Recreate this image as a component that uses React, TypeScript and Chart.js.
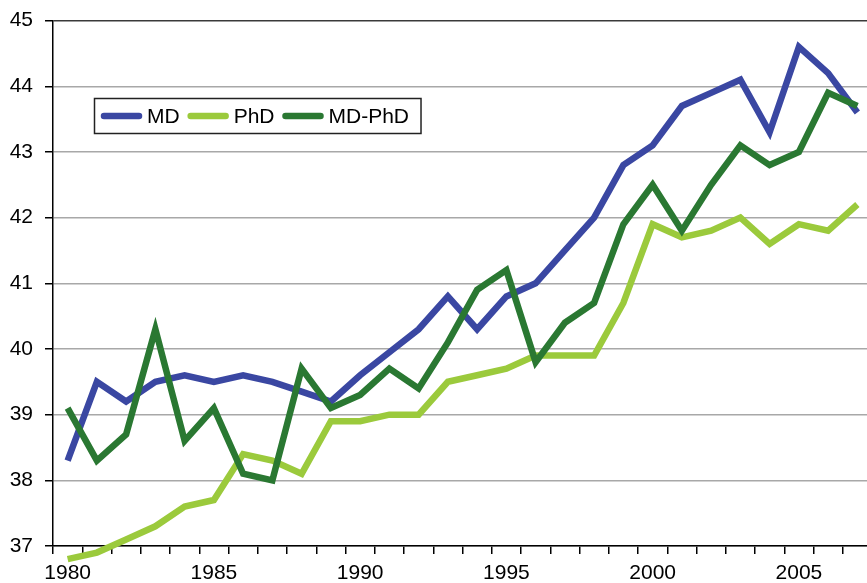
import React, { useEffect, useRef } from "react";
import { Chart, registerables } from "chart.js";

Chart.register(...registerables);

const years: number[] = [
  1980, 1981, 1982, 1983, 1984, 1985, 1986, 1987, 1988, 1989,
  1990, 1991, 1992, 1993, 1994, 1995, 1996, 1997, 1998, 1999,
  2000, 2001, 2002, 2003, 2004, 2005, 2006, 2007,
];

const mdValues: number[] = [
  38.3, 39.5, 39.2, 39.5, 39.6, 39.5, 39.6, 39.5, 39.35, 39.2,
  39.6, 39.95, 40.3, 40.8, 40.3, 40.8, 41.0, 41.5, 42.0, 42.8,
  43.1, 43.7, 43.9, 44.1, 43.3, 44.6, 44.2, 43.6,
];

const phdValues: number[] = [
  36.8, 36.9, 37.1, 37.3, 37.6, 37.7, 38.4, 38.3, 38.1, 38.9,
  38.9, 39.0, 39.0, 39.5, 39.6, 39.7, 39.9, 39.9, 39.9, 40.7,
  41.9, 41.7, 41.8, 42.0, 41.6, 41.9, 41.8, 42.2,
];

const mdPhdValues: number[] = [
  39.1, 38.3, 38.7, 40.3, 38.6, 39.1, 38.1, 38.0, 39.7, 39.1,
  39.3, 39.7, 39.4, 40.1, 40.9, 41.2, 39.8, 40.4, 40.7, 41.9,
  42.5, 41.8, 42.5, 43.1, 42.8, 43.0, 43.9, 43.7,
];

const seriesLabels: string[] = ["MD", "PhD", "MD-PhD"];
const seriesColors: string[] = ["#3a47a2", "#9bca3c", "#2a7832"];

const FONT = "'Liberation Sans', Arial, Helvetica, sans-serif";
const SHIFT = 4;

const legendPlugin = {
  id: "boxLegend",
  afterDraw(chart: any) {
    const ctx = chart.ctx as CanvasRenderingContext2D;
    const left = 94.5;
    const top = 98.5 + SHIFT;
    const height = 35;
    const midY = top + height / 2;
    ctx.save();
    ctx.font = `21px ${FONT}`;
    const sampleLen = 41;
    let x = 101;
    const items: { sx: number; tx: number; label: string; color: string }[] = [];
    chart.data.datasets.forEach((ds: any) => {
      const w = ctx.measureText(ds.label).width;
      items.push({ sx: x, tx: x + sampleLen + 5, label: ds.label, color: ds.borderColor });
      x = x + sampleLen + 5 + w + 8;
    });
    const right = x - 8 + 12;
    ctx.fillStyle = "#ffffff";
    ctx.fillRect(left, top, right - left, height);
    ctx.strokeStyle = "#222222";
    ctx.lineWidth = 1.5;
    ctx.strokeRect(left, top, right - left, height);
    items.forEach((it) => {
      ctx.beginPath();
      ctx.strokeStyle = it.color;
      ctx.lineWidth = 6.5;
      ctx.lineCap = "round";
      ctx.moveTo(it.sx + 3, midY);
      ctx.lineTo(it.sx + sampleLen - 3, midY);
      ctx.stroke();
      ctx.fillStyle = "#000000";
      ctx.textBaseline = "middle";
      ctx.textAlign = "left";
      ctx.fillText(it.label, it.tx, midY + 1);
    });
    ctx.restore();
  },
};

export default function App() {
  const canvasRef = useRef<HTMLCanvasElement | null>(null);

  useEffect(() => {
    if (!canvasRef.current) return;
    const seriesData = [mdValues, phdValues, mdPhdValues];
    const chart = new Chart(canvasRef.current, {
      type: "line",
      data: {
        labels: years.map(String),
        datasets: seriesData.map((d, i) => ({
          label: seriesLabels[i],
          data: d,
          borderColor: seriesColors[i],
          backgroundColor: seriesColors[i],
          borderWidth: 6.5,
          pointRadius: 0,
          pointHoverRadius: 0,
          tension: 0,
          fill: false,
          clip: false as any,
          borderJoinStyle: "miter" as const,
          borderCapStyle: "butt" as const,
          order: 2 - i,
        })),
      },
      options: {
        responsive: false,
        animation: false,
        devicePixelRatio: 1,
        layout: { padding: { top: 16, right: 8, left: 0, bottom: 0 } },
        plugins: {
          legend: { display: false },
          tooltip: { enabled: false },
        },
        scales: {
          x: {
            type: "category",
            offset: true,
            grid: {
              offset: true,
              drawOnChartArea: false,
              drawTicks: true,
              tickLength: 8,
              color: "#000000",
              lineWidth: 1.5,
            },
            border: { color: "#000000", width: 1.5 },
            ticks: {
              autoSkip: false,
              maxRotation: 0,
              minRotation: 0,
              padding: 7,
              color: "#000000",
              font: { family: FONT, size: 21 },
              callback: (_v: any, i: number) =>
                years[i] % 5 === 0 ? String(years[i]) : "",
            },
            afterFit: (scale: any) => {
              scale.height = 37;
            },
          },
          y: {
            min: 37,
            max: 45,
            grid: {
              color: (c: any) =>
                c.tick && c.tick.value === 45 ? "#3a3a3a" : "#a8a8a8",
              lineWidth: 1.5,
              tickLength: 8,
              tickColor: "#000000",
            },
            border: { color: "#000000", width: 1.5 },
            ticks: {
              stepSize: 1,
              padding: 12,
              color: "#000000",
              font: { family: FONT, size: 21 },
            },
            afterFit: (scale: any) => {
              scale.width = 53;
            },
          },
        },
      },
      plugins: [legendPlugin],
    });
    return () => chart.destroy();
  }, []);

  return (
    <div
      style={{
        position: "fixed",
        left: 0,
        top: 0,
        width: 867,
        height: 583,
        overflow: "hidden",
        background: "#ffffff",
      }}
    >
      <canvas
        ref={canvasRef}
        width={880}
        height={583 + SHIFT}
        style={{
          display: "block",
          position: "absolute",
          left: 0,
          top: -SHIFT,
          width: 880,
          height: 583 + SHIFT,
        }}
      />
    </div>
  );
}
